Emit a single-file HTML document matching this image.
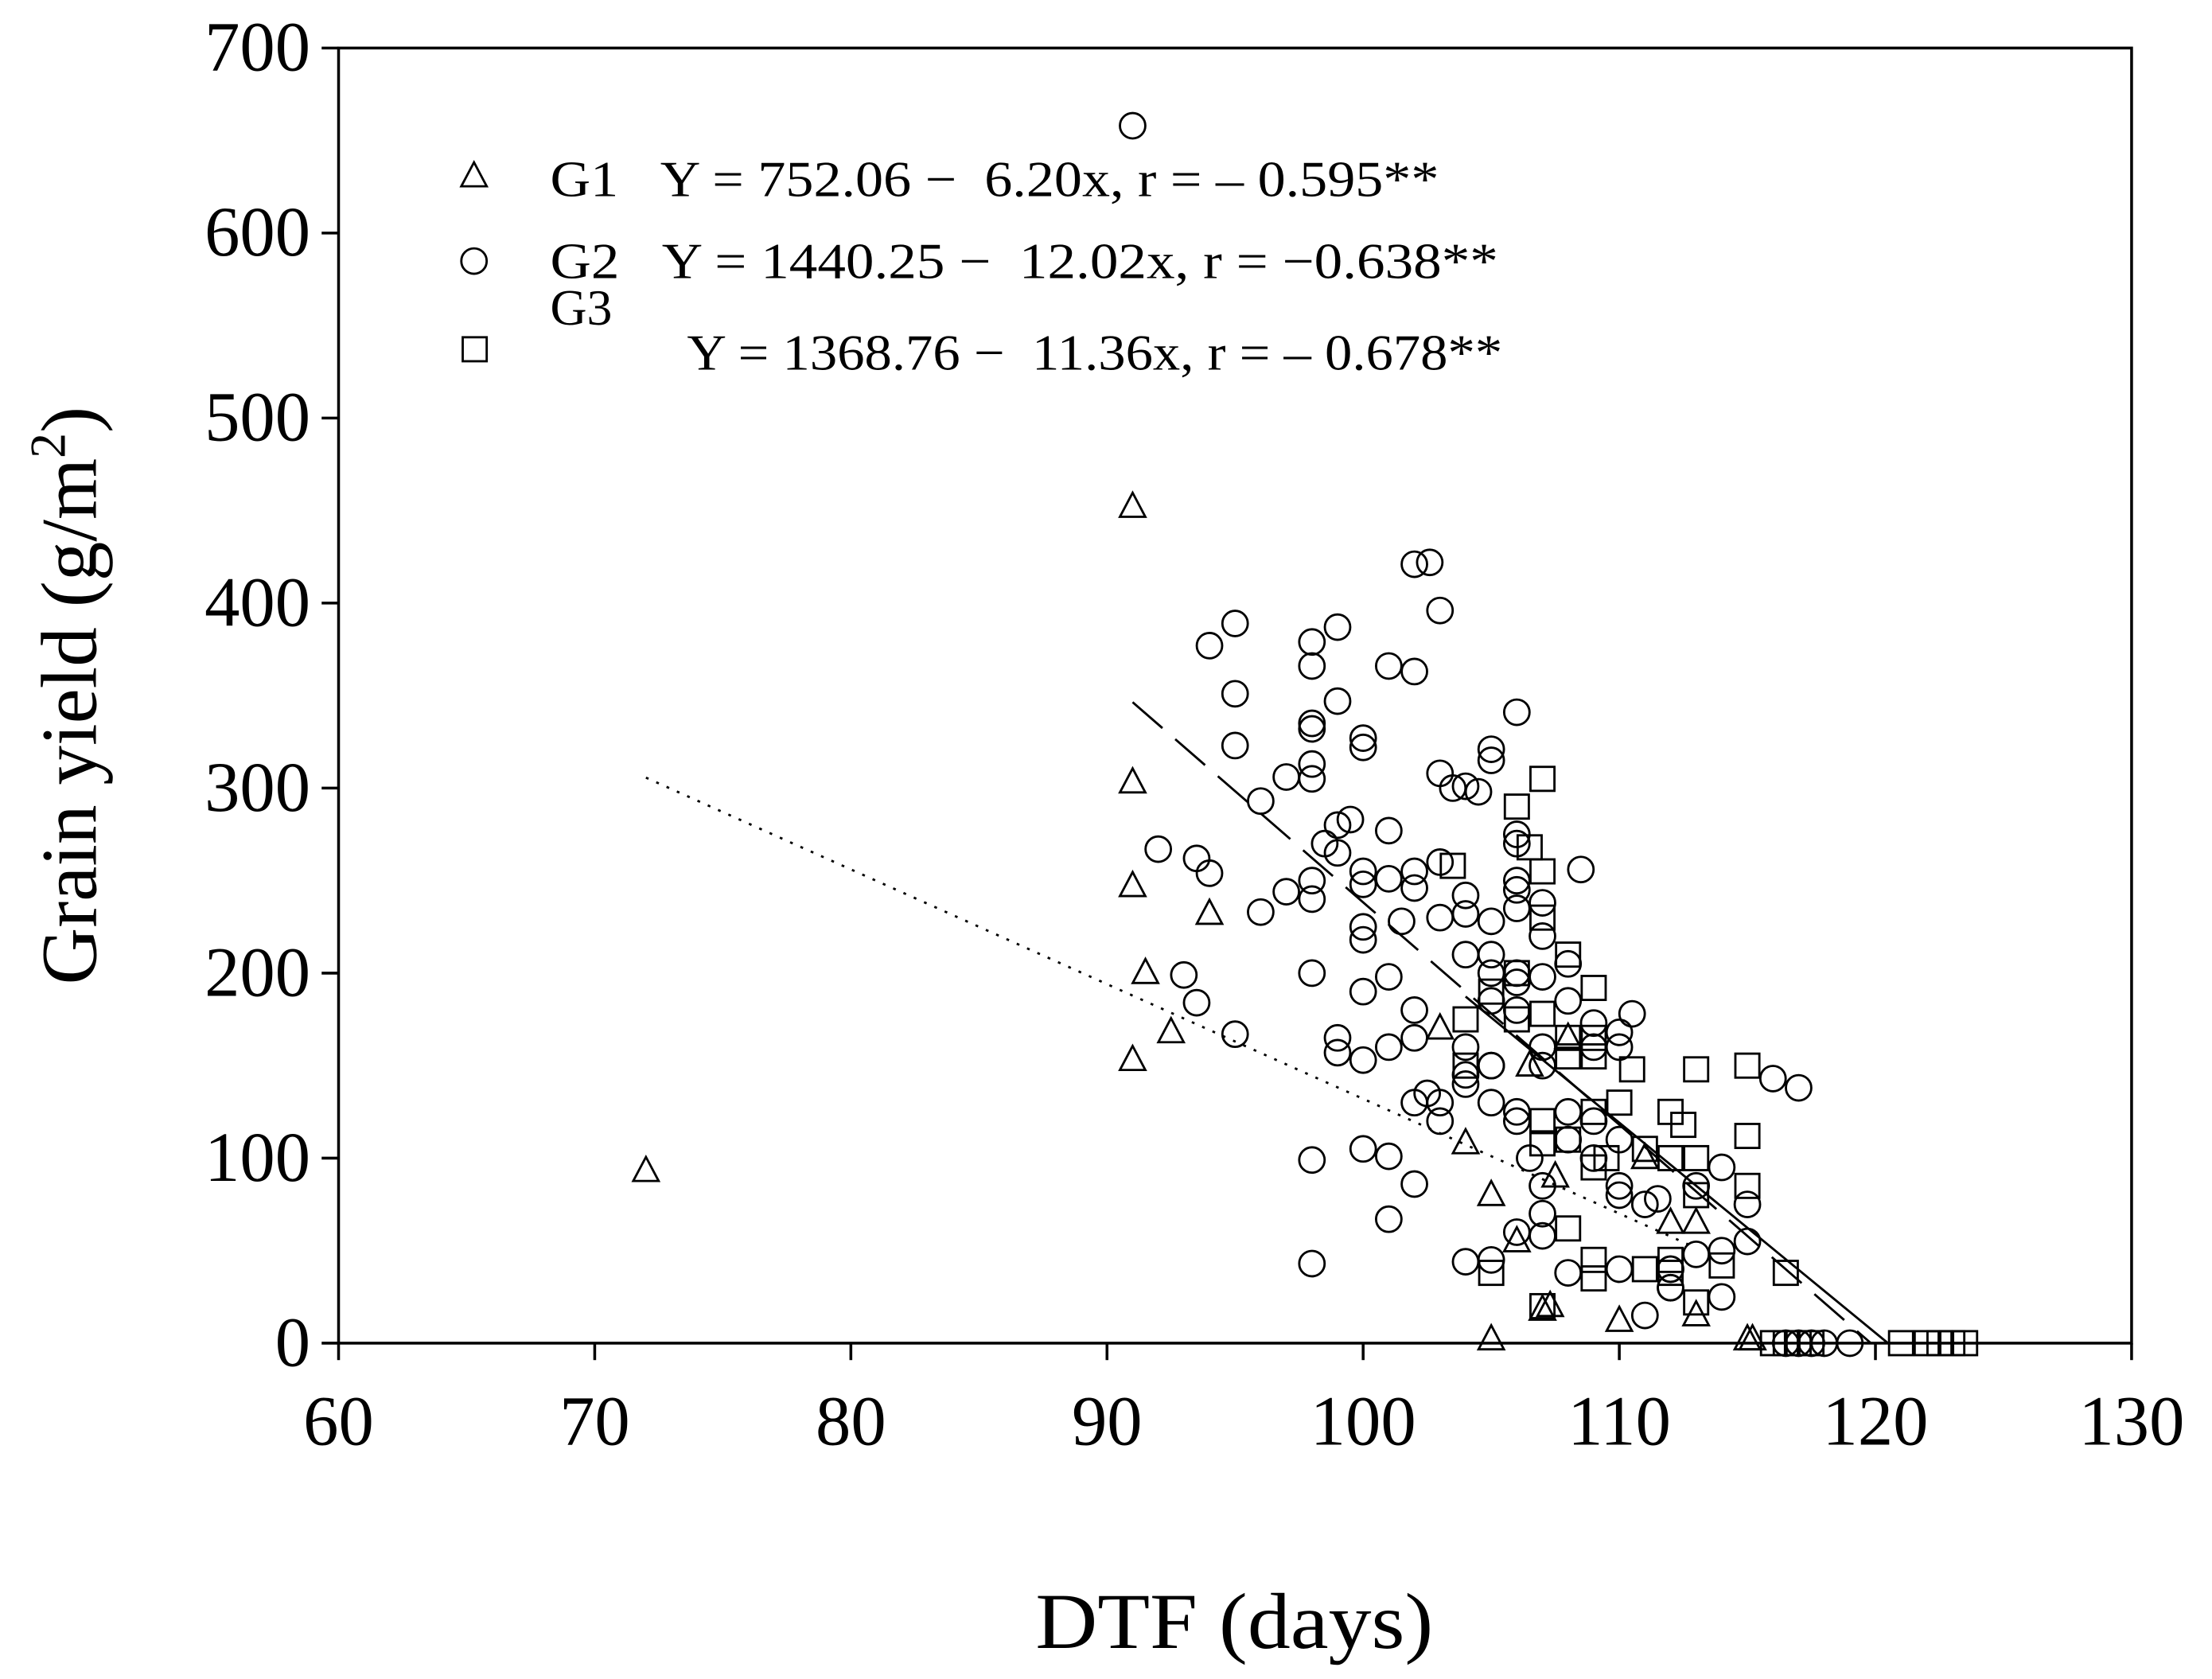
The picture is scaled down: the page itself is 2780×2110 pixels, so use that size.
<!DOCTYPE html>
<html><head><meta charset="utf-8"><style>html,body{margin:0;padding:0;background:#fff}svg{display:block}text{font-family:"Liberation Serif",serif;fill:#000}</style></head>
<body>
<svg id="chart" width="2780" height="2110" viewBox="0 0 1568 1190" xmlns="http://www.w3.org/2000/svg">
<rect x="0" y="0" width="1568" height="1190" fill="#fff"/>
<g id="plot"></g>
<script>
const xTicks=[60,70,80,90,100,110,120,130];
const yTicks=[0,100,200,300,400,500,600,700];
const g1x=[72,91,91,91,91.5,91,92.5,94,105,104,105,106,107,107.3,107.5,108,110,111,112,113,113,115,115.2,106.5,103];
const g1y=[93,452,303,247,200,153,168,232,2,108,80,55,18,20,90,165,12,100,65,65,15,2,2,150,170];
const g2x=[91,102,102.6,103,95,94,99,98,98,95,
99,101,102,100,100,106,105,105,98,98,
98,98,95,96,97,99,99.5,103,103.5,104,
104.5,106,106,106,92,93.5,94,96,97,98,
98,98.5,99,100,100,100,100,101,101,101.5,
102,102,103,103,104,104,104,105,105,105,
105,106,106,106,106,107,107,107,108,108,
108.5,109,109,110,110,110.5,93,93.5,95,98,
99,99,100,100,101,101,102,102,102,102.5,
103,103,104,104,104,105,105,105,106,106,
106,106.5,107,107,107,108,108,109,109,110,
110,111,111.5,112,112,113,114,114,115,116,
117,98,98,100,101,101,102,104,105,106,
107,107,108,110,110,111,112,112,113,114,
115,116.5,117,117.5,118,119];
const g2y=[658,421,422,396,389,377,387,379,366,351,
347,366,363,327,322,341,321,315,335,332,
313,305,323,293,306,280,283,308,300,301,
298,275,270,250,267,262,254,233,244,250,
240,270,265,255,248,225,218,277,251,228,
246,255,260,230,242,232,210,228,210,200,
185,245,235,200,195,238,220,198,205,185,
256,173,160,168,160,178,199,184,167,200,
165,157,190,153,198,160,180,165,130,135,
120,130,145,140,160,150,150,130,125,180,
120,100,85,160,150,125,110,100,120,85,
110,75,78,40,30,85,25,95,75,143,
138,99,43,105,101,67,86,44,45,60,
58,70,38,40,80,15,30,40,48,50,
55,0,0,0,0,0];
const g3x=[105,106,106.5,107,107,107,107,107,107,108,108,108,108,108,109,109,109,109,109,109,109,109.5,110,110.5,111,111,112,112,112,112,112.5,113,113,113,113,114,115,115,115,116.5,121,122,122.5,123,123.5,116,116.5,117,117.5,104,104,105,106,106,107,103.5];
const g3y=[38,290,268,305,255,230,120,108,20,210,165,155,110,62,192,165,155,125,95,45,35,100,130,148,105,40,125,100,45,38,118,148,100,80,22,42,150,112,85,38,0,0,0,0,0,0,0,0,0,175,150,190,200,175,178,258];
const X0=240,X1=1511,Y0=952,Y1=34;
const sx=v=>X0+(v-60)/70*(X1-X0);
const sy=v=>Y0-(v/700)*(Y0-Y1);
const NS="http://www.w3.org/2000/svg";
const plot=document.getElementById('plot');
function mk(t,a,txt){const e=document.createElementNS(NS,t);for(const k in a)e.setAttribute(k,a[k]);if(txt!==undefined)e.textContent=txt;plot.appendChild(e);return e;}
const frame=mk('rect',{x:X0,y:Y1,width:X1-X0,height:Y0-Y1,fill:'none',stroke:'#000','stroke-width':2});


xTicks.forEach(v=>{const l=mk('line',{x1:sx(v),x2:sx(v),y1:Y0,y2:Y0+12,stroke:'#000','stroke-width':2});


const t=mk('text',{x:sx(v),y:Y0+72,'text-anchor':'middle','font-size':50},String(v));

});
yTicks.forEach(v=>{const l=mk('line',{x1:X0-12,x2:X0,y1:sy(v),y2:sy(v),stroke:'#000','stroke-width':2});


const t=mk('text',{x:X0-20,y:sy(v)+16,'text-anchor':'end','font-size':50},String(v));

});
function reg(a,b,xa,xb,dash,name){const l=mk('line',{x1:sx(xa),y1:sy(a+b*xa),x2:sx(xb),y2:sy(a+b*xb),stroke:'#000','stroke-width':1.6,'stroke-dasharray':dash});

}
reg(752.06,-6.20,72,113,'2,6','g1-regression-line');
reg(1440.25,-12.02,91,119.8,'28,12','g2-regression-line');
reg(1368.76,-11.36,104,120.5,'none','g3-regression-line');
function tri(cx,cy){return mk('polygon',{points:`${cx},${cy-10} ${cx-9},${cy+7} ${cx+9},${cy+7}`,fill:'none',stroke:'#000','stroke-width':1.6});}
g2x.forEach((v,i)=>{const c=mk('circle',{cx:sx(v),cy:sy(g2y[i]),r:9,fill:'none',stroke:'#000','stroke-width':1.6});

});
g3x.forEach((v,i)=>{const c=mk('rect',{x:sx(v)-8.5,y:sy(g3y[i])-8.5,width:17,height:17,fill:'none',stroke:'#000','stroke-width':1.6});

});
g1x.forEach((v,i)=>{const c=tri(sx(v),sy(g1y[i]));

});
</script>
<g>
<polygon points="336,115 327,132 345,132" fill="none" stroke="#000" stroke-width="1.6"/>
<text x="390" y="139" font-size="36" textLength="630" lengthAdjust="spacingAndGlyphs">G1&#160;&#160;&#160;Y = 752.06 −&#160;&#160;6.20x, r = – 0.595**</text>
<circle cx="336" cy="185" r="9" fill="none" stroke="#000" stroke-width="1.6"/>
<text x="390" y="197" font-size="36" textLength="672" lengthAdjust="spacingAndGlyphs">G2&#160;&#160;&#160;Y = 1440.25 −&#160;&#160;12.02x, r = −0.638**</text>
<rect x="328" y="239" width="17" height="17" fill="none" stroke="#000" stroke-width="1.6"/>
<text x="390" y="230" font-size="36">G3</text>
<text x="487" y="262" font-size="36" textLength="578" lengthAdjust="spacingAndGlyphs">Y = 1368.76 −&#160;&#160;11.36x, r = – 0.678**</text>
</g>
<text x="875" y="1168" text-anchor="middle" font-size="56" textLength="282" lengthAdjust="spacingAndGlyphs">DTF (days)</text>
<text transform="translate(68,493) rotate(-90)" text-anchor="middle" font-size="56">Grain yield (g/m<tspan font-size="36" dy="-22">2</tspan><tspan dy="22">)</tspan></text>
</svg>
</body></html>
